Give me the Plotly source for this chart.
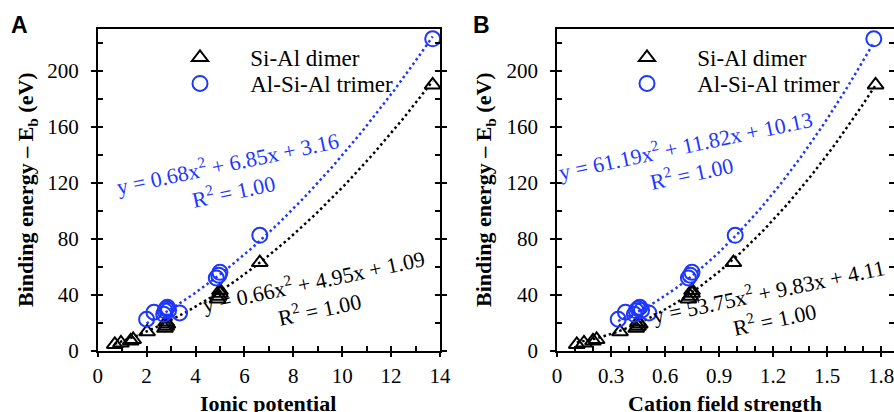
import plotly.graph_objects as go
import numpy as np

# ---------------- data ----------------
# Panel A: ionic potential
dimer_ip = [0.70, 0.95, 1.35, 1.45, 2.02, 2.75, 2.80, 2.85, 2.80, 4.90, 4.95, 5.00, 5.00, 6.63, 13.70]
dimer_E = [4.5, 5.5, 7.0, 8.0, 13.5, 16.0, 17.5, 19.0, 20.5, 37.0, 39.0, 41.0, 43.0, 63.0, 190.0]
trimer_ip = [2.00, 2.30, 2.70, 2.75, 2.80, 2.85, 2.90, 3.35, 4.85, 4.95, 5.00, 6.63, 13.70]
trimer_E = [22.5, 27.5, 26.0, 28.5, 30.0, 31.0, 29.0, 27.0, 52.0, 54.0, 56.0, 82.5, 223.0]

# Panel B: cation field strength
dimer_cfs = [0.11, 0.15, 0.20, 0.22, 0.35, 0.44, 0.45, 0.46, 0.45, 0.73, 0.74, 0.75, 0.75, 0.98, 1.77]
trimer_cfs = [0.34, 0.38, 0.43, 0.44, 0.45, 0.46, 0.47, 0.51, 0.73, 0.74, 0.75, 0.99, 1.76]

# fit coefficients (as printed on the chart)
fitA_dimer = [0.66, 4.95, 1.09]
fitA_trimer = [0.68, 6.85, 3.16]
fitB_dimer = [53.75, 9.83, 4.11]
fitB_trimer = [61.19, 11.82, 10.13]

series_names = ["Si-Al dimer", "Al-Si-Al trimer"]
yticks = [0, 40, 80, 120, 160, 200]
xticksA = [0, 2, 4, 6, 8, 10, 12, 14]
xticksB = [0, 0.3, 0.6, 0.9, 1.2, 1.5, 1.8]
xtick_textB = ["0", "0.3", "0.6", "0.9", "1.2", "1.5", "1.8"]

# ---------------- style ----------------
W, H = 894, 412
BLUE = "rgb(30,55,255)"
BLACK = "black"
SERIF = "Liberation Serif"
SANS = "Liberation Sans"
PAD = "\u00a0\u00a0\u00a0"

def px_x(p):
    return p / W

def px_y(p):
    return (H - p) / H

domA = [px_x(97.7), px_x(440.0)]
domB = [px_x(557.0), 1.0]
domY = [px_y(350.7), px_y(29.0)]
rangeA = [0, 14]
rangeB = [0, 1.8 * (894 - 557.0) / (881.0 - 557.0)]
rangeY = [0, 230]

fig = go.Figure()

def fit_curve(coef, xs):
    xx = np.linspace(min(xs), max(xs), 200)
    return xx, coef[0] * xx ** 2 + coef[1] * xx + coef[2]

dot = "2.5px,3px"
tri = dict(symbol="triangle-up-open", size=14, color=BLACK, line=dict(width=2))
cir = dict(symbol="circle-open", size=15, color=BLUE, line=dict(width=2))

# Panel A
xx, yy = fit_curve(fitA_dimer, dimer_ip)
fig.add_trace(go.Scatter(x=xx, y=yy, mode="lines", line=dict(color=BLACK, width=2.5, dash=dot),
                         xaxis="x", yaxis="y", showlegend=False, hoverinfo="skip"))
xx, yy = fit_curve(fitA_trimer, trimer_ip)
fig.add_trace(go.Scatter(x=xx, y=yy, mode="lines", line=dict(color=BLUE, width=2.5, dash=dot),
                         xaxis="x", yaxis="y", showlegend=False, hoverinfo="skip"))
fig.add_trace(go.Scatter(x=dimer_ip, y=dimer_E, mode="markers", name=PAD + series_names[0], marker=tri,
                         xaxis="x", yaxis="y", legend="legend"))
fig.add_trace(go.Scatter(x=trimer_ip, y=trimer_E, mode="markers", name=PAD + series_names[1], marker=cir,
                         xaxis="x", yaxis="y", legend="legend3"))

# Panel B
xx, yy = fit_curve(fitB_dimer, dimer_cfs)
fig.add_trace(go.Scatter(x=xx, y=yy, mode="lines", line=dict(color=BLACK, width=2.5, dash=dot),
                         xaxis="x2", yaxis="y2", showlegend=False, hoverinfo="skip"))
xx, yy = fit_curve(fitB_trimer, trimer_cfs)
fig.add_trace(go.Scatter(x=xx, y=yy, mode="lines", line=dict(color=BLUE, width=2.5, dash=dot),
                         xaxis="x2", yaxis="y2", showlegend=False, hoverinfo="skip"))
fig.add_trace(go.Scatter(x=dimer_cfs, y=dimer_E, mode="markers", name=PAD + series_names[0], marker=tri,
                         xaxis="x2", yaxis="y2", legend="legend2"))
fig.add_trace(go.Scatter(x=trimer_cfs, y=trimer_E, mode="markers", name=PAD + series_names[1], marker=cir,
                         xaxis="x2", yaxis="y2", legend="legend4"))

tickfont = dict(family=SERIF, size=21, color="black")

def xmain(dom, rng, tv, tt):
    return dict(domain=dom, range=rng, tickmode="array", tickvals=tv, ticktext=tt,
                ticks="outside", ticklen=5, tickwidth=1.5, tickcolor="black",
                showline=True, linecolor="black", linewidth=1.5, mirror=True,
                showgrid=False, zeroline=False, tickfont=tickfont, fixedrange=True,
                automargin=False, ticklabeloverflow="allow")

def ymain(anchor):
    return dict(domain=domY, range=rangeY, tickmode="array", tickvals=yticks,
                ticktext=[str(v) for v in yticks], anchor=anchor,
                ticks="outside", ticklen=5, tickwidth=1.5, tickcolor="black",
                showline=True, linecolor="black", linewidth=1.5, mirror="allticks",
                showgrid=False, zeroline=False, tickfont=tickfont, ticklabelstandoff=8,
                fixedrange=True, automargin=False)

def xover(dom, rng, dt, anchor, over):
    return dict(domain=dom, range=rng, tick0=0, dtick=dt, ticks="inside", ticklen=5,
                tickwidth=1.5, tickcolor="black", showticklabels=False, showgrid=False,
                zeroline=False, showline=False, anchor=anchor, overlaying=over, fixedrange=True,
                automargin=False)

def yover(dt, anchor, over):
    return dict(domain=domY, range=rangeY, tick0=0, dtick=dt, ticks="inside", ticklen=5,
                tickwidth=1.5, tickcolor="black", showticklabels=False, showgrid=False,
                zeroline=False, showline=False, mirror="allticks", anchor=anchor,
                overlaying=over, fixedrange=True, automargin=False)

def leg(xpx, ytop):
    return dict(x=px_x(xpx), y=px_y(ytop), xanchor="left", yanchor="top",
                bgcolor="rgba(0,0,0,0)", font=dict(family=SERIF, size=23, color="black"),
                itemwidth=56, tracegroupgap=0)

fig.update_layout(
    width=W, height=H, autosize=False,
    margin=dict(l=0, r=0, t=0, b=0, pad=0, autoexpand=False),
    paper_bgcolor="white", plot_bgcolor="rgba(0,0,0,0)",
    font=dict(family=SERIF, size=21, color="black"),
    xaxis=dict(**xmain(domA, rangeA, xticksA, [str(v) for v in xticksA]), anchor="y"),
    yaxis=ymain("x"),
    xaxis2=dict(**xmain(domB, rangeB, xticksB, xtick_textB), anchor="y2"),
    yaxis2=ymain("x2"),
    xaxis3=xover(domA, rangeA, 1, "y3", "x"),
    yaxis3=yover(20, "x3", "y"),
    xaxis4=xover(domB, rangeB, 0.1, "y4", "x2"),
    yaxis4=yover(20, "x4", "y2"),
    legend=leg(167, 36),
    legend3=leg(167, 62),
    legend2=leg(614, 36),
    legend4=leg(614, 62),
)

# invisible points so that overlay axes (inside ticks) are drawn
for xa, ya, xr in (("x3", "y3", rangeA), ("x4", "y4", rangeB)):
    fig.add_trace(go.Scatter(x=[xr[0]], y=[0], mode="markers", marker=dict(opacity=0),
                             xaxis=xa, yaxis=ya, showlegend=False, hoverinfo="skip"))

ann = []
# panel letters
ann.append(dict(text="<b>A</b>", x=px_x(19), y=px_y(25), font=dict(family=SANS, size=23)))
ann.append(dict(text="<b>B</b>", x=px_x(481), y=px_y(25), font=dict(family=SANS, size=23)))
# axis titles
ytitle = "<b>Binding energy – E<sub>b</sub> (eV)</b>"
ann.append(dict(text=ytitle, x=px_x(27), y=px_y(190), textangle=-90, font=dict(family=SERIF, size=22)))
ann.append(dict(text=ytitle, x=px_x(485), y=px_y(190), textangle=-90, font=dict(family=SERIF, size=22)))
ann.append(dict(text="<b>Ionic potential</b>", x=px_x(268), y=px_y(403), font=dict(family=SERIF, size=22)))
ann.append(dict(text="<b>Cation field strength</b>", x=px_x(725), y=px_y(403), font=dict(family=SERIF, size=22)))
# fit equations
ann.append(dict(text="y = 0.68x<sup>2</sup> + 6.85x + 3.16<br>R<sup>2</sup> = 1.00", x=px_x(230), y=px_y(176),
                textangle=-12, font=dict(family=SERIF, size=22, color=BLUE)))
ann.append(dict(text="y = 0.66x<sup>2</sup> + 4.95x + 1.09<br>R<sup>2</sup> = 1.00", x=px_x(316), y=px_y(294),
                textangle=-12, font=dict(family=SERIF, size=22, color=BLACK)))
ann.append(dict(text="y = 61.19x<sup>2</sup> + 11.82x + 10.13<br>R<sup>2</sup> = 1.00", x=px_x(688), y=px_y(158),
                textangle=-12, font=dict(family=SERIF, size=22, color=BLUE)))
ann.append(dict(text="y = 53.75x<sup>2</sup> + 9.83x + 4.11<br>R<sup>2</sup> = 1.00", x=px_x(771), y=px_y(304),
                textangle=-12, font=dict(family=SERIF, size=22, color=BLACK)))
for a in ann:
    a.update(xref="paper", yref="paper", showarrow=False, xanchor="center", yanchor="middle")
fig.update_layout(annotations=ann)

fig.write_html("out.html")
